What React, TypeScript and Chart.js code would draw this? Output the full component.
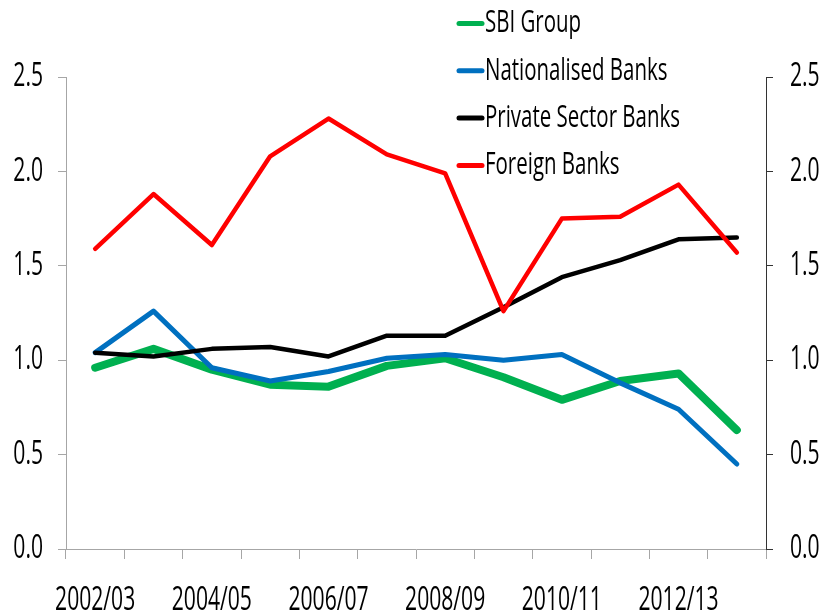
import React, { useEffect, useRef } from 'react';
import { Chart, registerables } from 'chart.js';

Chart.register(...registerables);

const categories = ['2002/03', '2003/04', '2004/05', '2005/06', '2006/07', '2007/08', '2008/09', '2009/10', '2010/11', '2011/12', '2012/13', '2013/14'];
const sbiGroup = [0.96, 1.06, 0.95, 0.87, 0.86, 0.97, 1.01, 0.91, 0.79, 0.89, 0.93, 0.63];
const nationalisedBanks = [1.04, 1.26, 0.96, 0.89, 0.94, 1.01, 1.03, 1.0, 1.03, 0.88, 0.74, 0.45];
const privateSectorBanks = [1.04, 1.02, 1.06, 1.07, 1.02, 1.13, 1.13, 1.28, 1.44, 1.53, 1.64, 1.65];
const foreignBanks = [1.59, 1.88, 1.61, 2.08, 2.28, 2.09, 1.99, 1.26, 1.75, 1.76, 1.93, 1.57];
const seriesNames = ['SBI Group', 'Nationalised Banks', 'Private Sector Banks', 'Foreign Banks'];
const seriesColors = ['#00B050', '#0070C0', '#000000', '#FF0000'];
const yMin = 0;
const yMax = 2.5;
const yStep = 0.5;

const FONT = "'Open Sans', 'Noto Sans', sans-serif";
const TEXT_SQUEEZE = 0.66;

// condensed text: squeeze every label horizontally around its anchor point
const condensedTextPlugin = {
  id: 'condensedText',
  beforeDraw(chart: any) {
    const ctx = chart.ctx;
    if (ctx.__condensed) return;
    ctx.__condensed = true;
    const orig = ctx.fillText.bind(ctx);
    ctx.fillText = (text: string, x: number, y: number, maxWidth?: number) => {
      ctx.save();
      ctx.translate(x, y);
      ctx.scale(TEXT_SQUEEZE, 1);
      if (maxWidth !== undefined) orig(text, 0, 0, maxWidth / TEXT_SQUEEZE);
      else orig(text, 0, 0);
      ctx.restore();
    };
  },
};

const legendPlugin = {
  id: 'customLegend',
  afterDraw(chart: any) {
    const ctx = chart.ctx;
    ctx.save();
    chart.data.datasets.forEach((ds: any, i: number) => {
      const y = 23.5 + i * 47.3;
      ctx.beginPath();
      ctx.strokeStyle = ds.borderColor;
      ctx.lineWidth = 5;
      ctx.lineCap = 'round';
      ctx.moveTo(459, y);
      ctx.lineTo(482, y);
      ctx.stroke();
      ctx.fillStyle = '#000';
      ctx.font = `31px ${FONT}`;
      ctx.textBaseline = 'middle';
      ctx.textAlign = 'left';
      ctx.fillText(ds.label, 485, y);
    });
    ctx.restore();
  },
};

export default function App() {
  const ref = useRef<HTMLCanvasElement | null>(null);
  useEffect(() => {
    if (!ref.current) return;
    const seriesData = [sbiGroup, nationalisedBanks, privateSectorBanks, foreignBanks];
    const widths = [8, 5, 4.5, 4.5];
    const chart = new Chart(ref.current, {
      type: 'line',
      data: {
        labels: categories,
        datasets: seriesData.map((d, i) => ({
          label: seriesNames[i],
          data: d,
          borderColor: seriesColors[i],
          backgroundColor: seriesColors[i],
          borderWidth: widths[i],
          pointRadius: 0,
          tension: 0,
          borderCapStyle: 'round' as const,
          borderJoinStyle: 'round' as const,
          order: 4 - i,
          yAxisID: 'y',
        })),
      },
      options: {
        responsive: false,
        animation: false,
        layout: { padding: { top: 77, left: 0, right: 0, bottom: 0 } },
        plugins: { legend: { display: false }, tooltip: { enabled: false } },
        scales: {
          x: {
            offset: true,
            grid: { offset: true, drawOnChartArea: false, drawTicks: true, tickLength: 10, color: '#a6a6a6', lineWidth: 1 },
            border: { display: true, color: '#a6a6a6', width: 1 },
            ticks: {
              autoSkip: false,
              maxRotation: 0,
              minRotation: 0,
              padding: 23,
              color: '#000',
              font: { family: FONT, size: 32 },
              callback: (_v: any, idx: number) => (idx % 2 === 0 ? categories[idx] : ''),
            },
            afterFit: (s: any) => { s.height = 61; },
          },
          y: {
            position: 'left',
            min: yMin,
            max: yMax,
            grid: { drawOnChartArea: false, drawTicks: true, tickLength: 8, color: '#a6a6a6' },
            border: { display: true, color: '#a6a6a6', width: 1 },
            ticks: {
              stepSize: yStep,
              padding: 15,
              color: '#000',
              font: { family: FONT, size: 32 },
              callback: (v: any) => Number(v).toFixed(1),
            },
            afterFit: (s: any) => { s.width = 66; },
          },
          y1: {
            position: 'right',
            min: yMin,
            max: yMax,
            grid: { drawOnChartArea: false, drawTicks: true, tickLength: 7, color: '#333333' },
            border: { display: true, color: '#333333', width: 1 },
            ticks: {
              stepSize: yStep,
              padding: 17,
              color: '#000',
              font: { family: FONT, size: 32 },
              callback: (v: any) => Number(v).toFixed(1),
            },
            afterFit: (s: any) => { s.width = 53; },
          },
        },
      },
      plugins: [condensedTextPlugin, legendPlugin],
    });
    return () => chart.destroy();
  }, []);
  return (
    <div style={{ position: 'absolute', left: 0, top: 0, width: 819, height: 610, background: '#fff' }}>
      <canvas ref={ref} width={819} height={610} style={{ display: 'block' }} />
    </div>
  );
}
